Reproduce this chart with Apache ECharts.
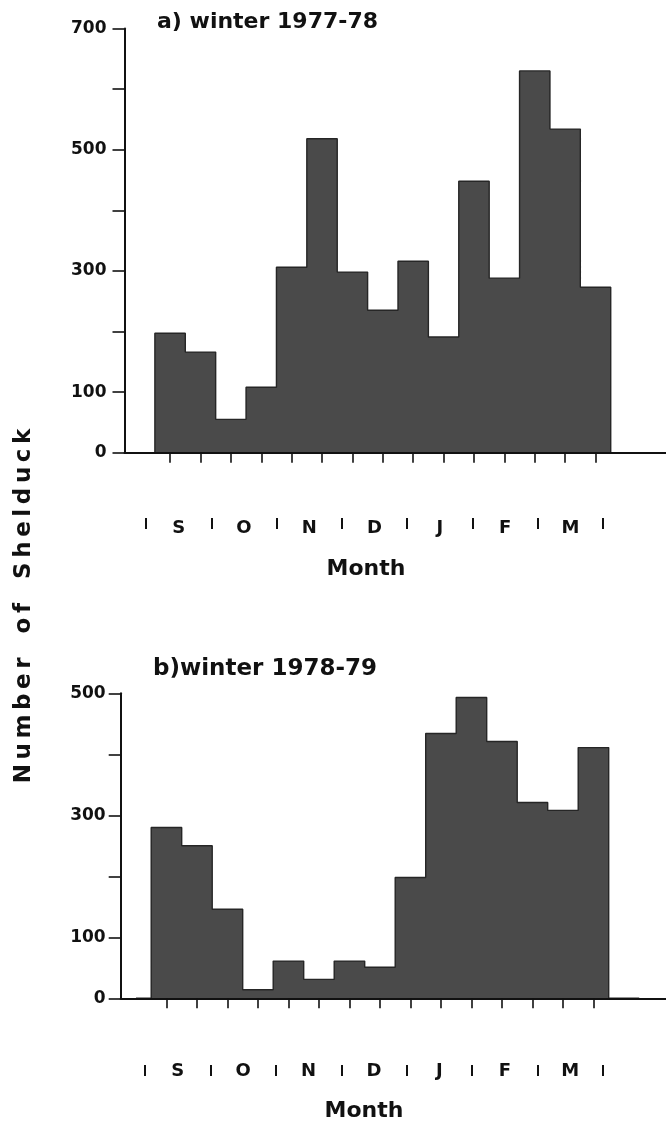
<!DOCTYPE html>
<html><head><meta charset="utf-8">
<script src="https://cdn.jsdelivr.net/npm/echarts@6/dist/echarts.min.js"></script>
<style>html,body{margin:0;padding:0;background:#fff}#c{width:666px;height:1125px}</style>
</head><body><div id="c"></div>
<script>
// ---- data ----
const fortnights = ['1','2','3','4','5','6','7','8','9','10','11','12','13','14','15'];
const months = ['S','O','N','D','J','F','M'];
const winter1977 = [197,166,55,108,306,518,298,235,316,191,448,288,630,534,273];
const winter1978 = [280,250,146,14,61,31,61,51,198,434,493,421,321,308,411];
const topLabels = [0,100,300,500,700];
const bottomLabels = [0,100,300,500];
const titleA = 'a) winter 1977-78';
const titleB = 'b)winter 1978-79';
const xName = 'Month';
const yNameWords = ['Number','of','Shelduck'];

// ---- helpers ----
const FONT = '"DejaVu Sans", "Liberation Sans", sans-serif';
const INK = '#111';
const BAR = '#4a4a4a';
const EDGE = '#262626';
const padCats = ['pad0'].concat(fortnights, ['pad16','pad17']);
const pad = v => [null].concat(v, [null, null]);
const outline = v => [0].concat(v, [0, null]);

function barXAxis(gridIndex) {
  return {
    type: 'category', gridIndex, data: padCats, boundaryGap: true,
    axisLine: {show: true, onZero: false, lineStyle: {color: INK, width: 2}},
    axisTick: {show: true, alignWithLabel: true, length: 10,
      interval: (i) => i >= 1 && i <= fortnights.length,
      lineStyle: {color: INK, width: 1.6}},
    axisLabel: {show: false, interval: 0},
    splitLine: {show: false},
    z: 4
  };
}
function valYAxis(gridIndex, max, labels, margin) {
  return {
    type: 'value', gridIndex, min: 0, max, interval: 100,
    axisLine: {show: true, lineStyle: {color: INK, width: 2}},
    axisTick: {show: true, length: 12, lineStyle: {color: INK, width: 1.6}},
    axisLabel: {show: true, margin, color: INK, fontFamily: FONT, fontWeight: 'bold', fontSize: 17,
      formatter: v => labels.indexOf(v) >= 0 ? String(v) : ''},
    splitLine: {show: false},
    z: 4
  };
}
function monthXAxis(gridIndex, margin) {
  return {
    type: 'category', gridIndex, data: months, boundaryGap: true, position: 'bottom',
    axisLine: {show: false, onZero: false},
    axisTick: {show: true, length: 11, interval: 0, lineStyle: {color: INK, width: 2}},
    axisLabel: {show: true, interval: 0, margin, color: INK, fontFamily: FONT, fontWeight: 'bold',
      fontSize: 18, verticalAlign: 'middle'},
    splitLine: {show: false}
  };
}
function hiddenY(gridIndex) {
  return {type: 'value', gridIndex, min: 0, max: 1, show: false};
}
function barSeries(xi, yi, values) {
  return {type: 'bar', xAxisIndex: xi, yAxisIndex: yi, data: pad(values), barCategoryGap: '0%',
    itemStyle: {color: BAR, borderColor: BAR, borderWidth: 2}, z: 2};
}
function edgeSeries(xi, yi, values) {
  return {type: 'line', xAxisIndex: xi, yAxisIndex: yi, data: outline(values), step: 'middle',
    showSymbol: false, symbol: 'none', connectNulls: false,
    areaStyle: {color: BAR, opacity: 1},
    lineStyle: {color: EDGE, width: 1.4}, z: 3, silent: true};
}

const chart = echarts.init(document.getElementById('c'), null, {renderer: 'canvas'});
const spaced = yNameWords.map(w => w.split('').join('\u2009')).join('   ');

chart.setOption({
  animation: false,
  backgroundColor: '#fff',
  grid: [
    {left: 124.5, top: 28.5, width: 547, height: 424.2, outerBoundsMode: 'none', containLabel: false},
    {left: 146, top: 517, width: 457, height: 1, outerBoundsMode: 'none', containLabel: false},
    {left: 120.7, top: 693.3, width: 549, height: 305, outerBoundsMode: 'none', containLabel: false},
    {left: 145, top: 1064, width: 458, height: 1, outerBoundsMode: 'none', containLabel: false}
  ],
  xAxis: [barXAxis(0), monthXAxis(1, 10), barXAxis(2), monthXAxis(3, 6)],
  yAxis: [valYAxis(0, 700, topLabels, 18), hiddenY(1), valYAxis(2, 500, bottomLabels, 15), hiddenY(3)],
  series: [
    barSeries(0, 0, winter1977),
    edgeSeries(0, 0, winter1977),
    barSeries(2, 2, winter1978),
    edgeSeries(2, 2, winter1978)
  ],
  graphic: [
    {type: 'text', x: 157, y: 22, style: {text: titleA, fill: INK, font: 'bold 22px ' + FONT, align: 'left', verticalAlign: 'middle'}},
    {type: 'text', x: 153, y: 669, style: {text: titleB, fill: INK, font: 'bold 23px ' + FONT, align: 'left', verticalAlign: 'middle'}},
    {type: 'text', x: 366, y: 569, style: {text: xName, fill: INK, font: 'bold 22px ' + FONT, align: 'center', verticalAlign: 'middle'}},
    {type: 'text', x: 364, y: 1111, style: {text: xName, fill: INK, font: 'bold 22px ' + FONT, align: 'center', verticalAlign: 'middle'}},
    {type: 'text', x: 24, y: 606, rotation: Math.PI / 2, style: {text: spaced, fill: INK, font: 'bold 23px ' + FONT, align: 'center', verticalAlign: 'middle'}}
  ]
});
</script>
</body></html>
